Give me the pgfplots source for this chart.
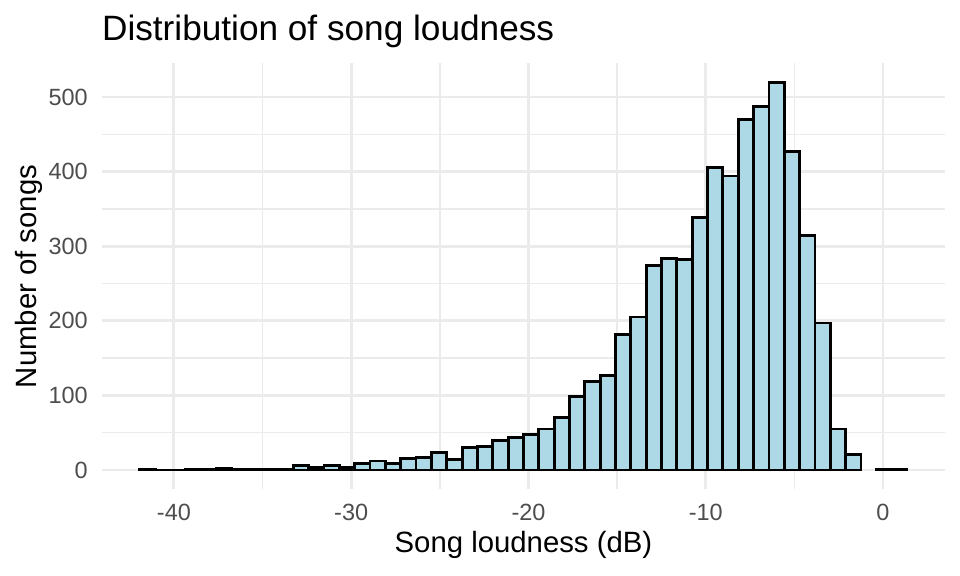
\documentclass[border=0pt]{standalone}
\usepackage{pgfplots}
\pgfplotsset{compat=1.18}
\usepackage{fontspec}
\setmainfont{Liberation Sans}
\definecolor{barfill}{HTML}{ADD8E6}
\definecolor{gridc}{HTML}{EBEBEB}
\definecolor{ticktext}{HTML}{4D4D4D}
\begin{document}
\begin{tikzpicture}
\path[use as bounding box] (-38.1pt,-32.475pt) rectangle (321.9pt,183.525pt);
\begin{axis}[
  at={(0pt,0pt)}, anchor=south west,
  scale only axis,
  width=316.425pt, height=159.75pt,
  xmin=-44.08, xmax=3.52,
  ymin=-26, ymax=545,
  axis line style={draw=none},
  major tick length=0pt, minor tick length=0pt,
  tick style={draw=none},
  xtick={-40,-30,-20,-10,0},
  xticklabels={-40,-30,-20,-10,0},
  minor xtick={-35,-25,-15,-5},
  ytick={0,100,200,300,400,500},
  yticklabels={0,100,200,300,400,500},
  minor ytick={50,150,250,350,450},
  grid=both,
  major grid style={draw=gridc, line width=1.07pt},
  minor grid style={draw=gridc, line width=0.53pt},
  tick label style={font=\fontsize{8.8}{10}\selectfont, text=ticktext, inner sep=0pt},
  xticklabel style={anchor=north},
  yticklabel style={anchor=east},
  xticklabel shift=5.2pt,
  yticklabel shift=5pt,
  clip=false,
]
\addplot[ybar interval, fill=barfill, draw=black, line width=1.07pt] table[x=x, y=y] {
x y
-41.920 1
-41.055 0
-40.189 0
-39.324 1
-38.458 1
-37.593 2
-36.727 1
-35.862 1
-34.996 1
-34.131 1
-33.265 6
-32.400 3
-31.534 6
-30.669 3
-29.803 9
-28.938 12
-28.072 9
-27.207 15
-26.341 17
-25.476 24
-24.610 14
-23.745 30
-22.879 31
-22.014 39
-21.148 43
-20.283 47
-19.417 55
-18.552 70
-17.686 99
-16.821 119
-15.955 127
-15.090 182
-14.224 205
-13.359 274
-12.493 283
-11.628 282
-10.762 339
-9.897 405
-9.031 394
-8.166 470
-7.300 487
-6.435 519
-5.569 427
-4.704 314
-3.838 197
-2.973 55
-2.107 21
-1.242 0
};
\addplot[ybar interval, fill=barfill, draw=black, line width=1.07pt] table[x=x, y=y] {
x y
-0.376 1
0.489 1
1.355 1
};
\end{axis}
\node[anchor=base west, inner sep=0pt, font=\fontsize{13.2}{15}\selectfont] at (0pt,168.15pt) {Distribution of song loudness};
\node[anchor=base, inner sep=0pt, font=\fontsize{11}{13}\selectfont] at (158.2pt,-23.74pt) {Song loudness (dB)};
\node[anchor=base, rotate=90, inner sep=0pt, font=\fontsize{11}{13}\selectfont] at (-24.34pt,79.875pt) {Number of songs};
\end{tikzpicture}
\end{document}
